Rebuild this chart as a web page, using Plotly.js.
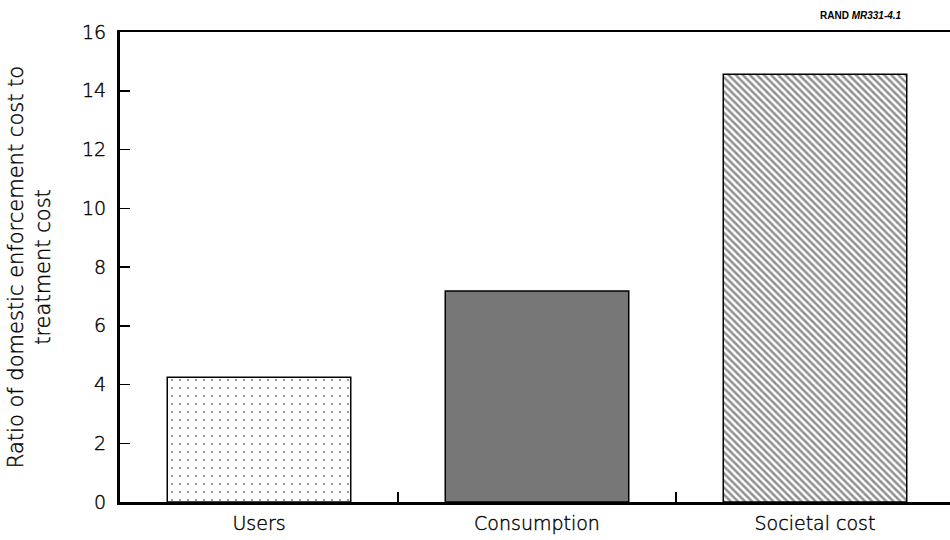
<!DOCTYPE html>
<html><head><meta charset="utf-8">
<script src="https://cdn.plot.ly/plotly-3.0.1.min.js"></script>
<style>
html,body{margin:0;padding:0;overflow:hidden;background:#fff}
#chart .xtick text, #chart .ytick text, #chart .ytitle { stroke: #000; stroke-width: 0.4px; }
</style>
</head><body>
<div id="chart" style="width:950px;height:540px"></div>
<script>
const categories = ["Users", "Consumption", "Societal cost"];
const ratios = [4.25, 7.18, 14.56];
const yTicks = [0, 2, 4, 6, 8, 10, 12, 14, 16];

const font = "DejaVu Sans, Liberation Sans, Arial, sans-serif";

const traces = [
  {type: "bar", x: [categories[0]], y: [ratios[0]], width: 0.66,
   marker: {color: "#ffffff", line: {color: "#000", width: 1.5},
            pattern: {shape: ".", size: 8, solidity: 0.05, fgcolor: "#000", bgcolor: "#fff", fillmode: "overlay"}}},
  {type: "bar", x: [categories[1]], y: [ratios[1]], width: 0.66,
   marker: {color: "#777777", line: {color: "#000", width: 1.5}}},
  {type: "bar", x: [categories[2]], y: [ratios[2]], width: 0.66,
   marker: {color: "#ffffff", line: {color: "#000", width: 1.5},
            pattern: {shape: "\\", size: 5, solidity: 0.5, fgcolor: "#222", bgcolor: "#fff", fillmode: "overlay"}}}
];

const layout = {
  width: 950, height: 540,
  margin: {l: 120, r: 0, t: 32, b: 38},
  paper_bgcolor: "#fff", plot_bgcolor: "#fff",
  showlegend: false,
  font: {family: font, color: "#000", size: 19, weight: 300},
  bargap: 0,
  xaxis: {
    type: "category", range: [-0.5, 2.4856],
    tickson: "boundaries", ticks: "inside", ticklen: 10, tickwidth: 1.5, tickcolor: "#000",
    showline: true, linecolor: "#000", linewidth: 2.5, mirror: true,
    showgrid: false, zeroline: false,
    tickfont: {family: font, size: 19, color: "#000", weight: 300},
    ticklabelstandoff: 3
  },
  yaxis: {
    range: [0, 16], tickvals: yTicks, ticktext: yTicks.map(String),
    ticks: "inside", ticklen: 10, tickwidth: 1.5, tickcolor: "#000",
    showline: true, linecolor: "#000", linewidth: 3, mirror: true,
    showgrid: false, zeroline: false,
    tickfont: {family: font, size: 19, color: "#000", weight: 300},
    ticklabelstandoff: 7,
    title: {text: "Ratio of domestic enforcement cost to<br>treatment cost",
            font: {family: font, size: 21, color: "#000", weight: 300}, standoff: 26}
  },
  annotations: [{
    xref: "paper", yref: "paper", x: (818 - 120) / 830, y: 1.02,
    xanchor: "left", yanchor: "bottom", showarrow: false,
    text: "<b>RAND <i>MR331-4.1</i></b>",
    font: {family: "Liberation Sans, Arial, sans-serif", size: 10, color: "#000"}
  }]
};

Plotly.newPlot("chart", traces, layout, {staticPlot: true, displayModeBar: false});
</script>
</body></html>
